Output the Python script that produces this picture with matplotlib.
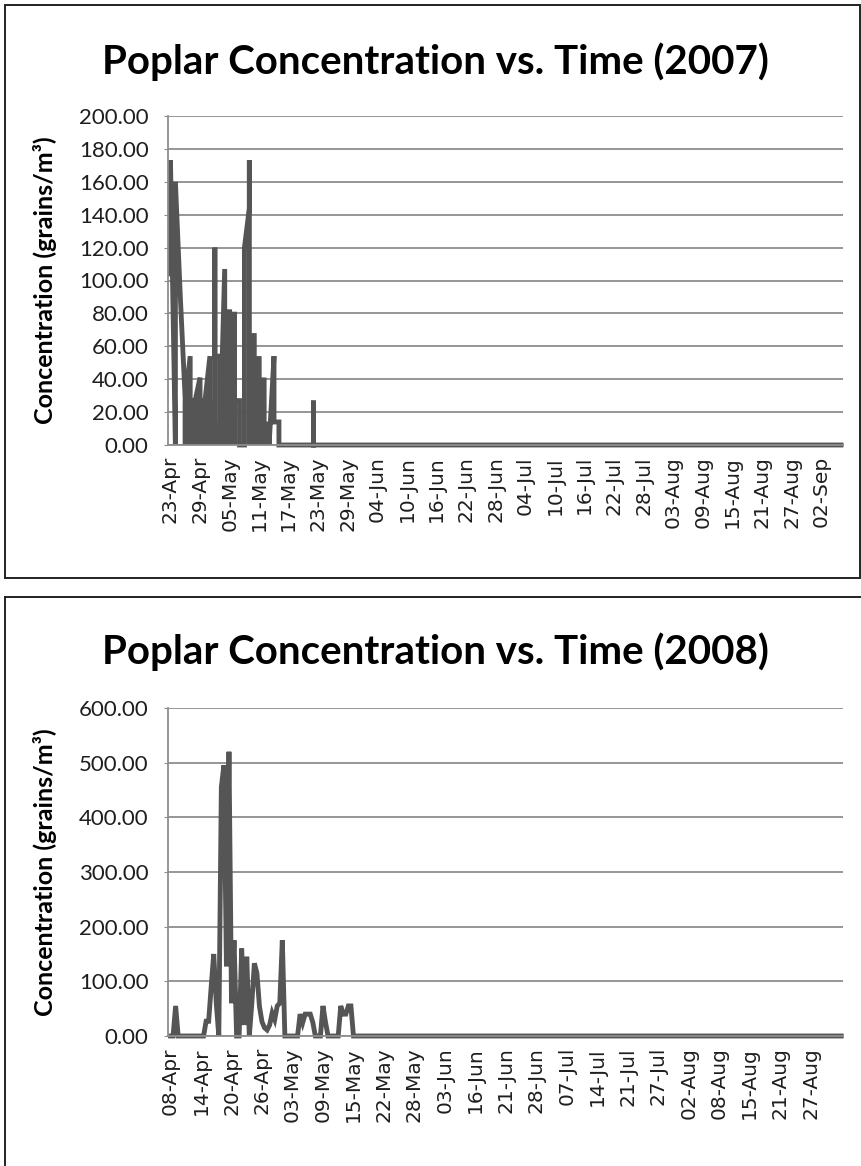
import matplotlib
matplotlib.use("Agg")
import matplotlib.pyplot as plt
from matplotlib.lines import Line2D
from matplotlib.patches import Rectangle

# ---------------- data ----------------
# 2007: date axis, day offset from 23-Apr (several readings can share a day)
day07 = [0, 0, 1, 1, 2, 3, 3, 3, 4, 4, 4, 5, 5, 5, 6, 6, 6, 7, 7, 7, 8, 8, 8,
         9, 9, 9, 10, 10, 11, 11, 11, 12, 12, 13, 13, 13, 14, 14, 15, 15, 16,
         16, 16, 17, 17, 18, 18, 19, 19, 20, 20, 21, 21, 22, 22, 23, 24, 25,
         26, 27, 28, 29, 29, 29]
val07 = [104, 173, 0, 160, 90, 27, 0, 27, 54, 0, 27, 27, 0, 27, 41, 0, 27, 27,
         0, 27, 54, 0, 27, 0, 120, 54, 54, 0, 107, 0, 81, 81, 0, 81, 0, 27, 27,
         0, 0, 120, 144, 173, 0, 68, 0, 54, 0, 41, 0, 14, 0, 54, 14, 14, 0, 0,
         0, 0, 0, 0, 0, 0, 27, 0]
tail07_days = list(range(30, 137))
tail07_vals = [0.0] * len(tail07_days)
ticks07 = ["23-Apr", "29-Apr", "05-May", "11-May", "17-May", "23-May", "29-May",
           "04-Jun", "10-Jun", "16-Jun", "22-Jun", "28-Jun", "04-Jul", "10-Jul",
           "16-Jul", "22-Jul", "28-Jul", "03-Aug", "09-Aug", "15-Aug", "21-Aug",
           "27-Aug", "02-Sep"]

# 2008: category axis (half-category resolution)
val08_head = [0, 0, 55, 0, 0, 0, 0, 0, 0, 0, 0, 0, 0, 0, 27, 27, 90, 150, 60,
              0, 455, 495, 127, 520, 60, 175, 0, 0, 160, 20, 145, 0, 60,
              133, 115, 54, 26, 15, 11, 20, 42, 30, 55, 60, 175, 0, 0, 0, 0, 0,
              0, 40, 24, 40, 40, 40, 25, 0, 0, 0, 55, 25, 0, 0, 0, 0, 0, 55, 40,
              40, 55, 55, 0]
val08_tail = [0.0] * (265 - len(val08_head))
ticks08 = ["08-Apr", "14-Apr", "20-Apr", "26-Apr", "03-May", "09-May", "15-May",
           "22-May", "28-May", "03-Jun", "16-Jun", "21-Jun", "28-Jun", "07-Jul",
           "14-Jul", "21-Jul", "27-Jul", "02-Aug", "08-Aug", "15-Aug", "21-Aug",
           "27-Aug"]

titles = ["Poplar Concentration vs. Time (2007)", "Poplar Concentration vs. Time (2008)"]
ylabel = "Concentration (grains/m³)"

# ---------------- figure ----------------
W, H = 862, 1166
fig = plt.figure(figsize=(W / 100, H / 100), dpi=100)
fig.patch.set_facecolor("white")

def rect(l, t, r, b):
    return [l / W, 1 - b / H, (r - l) / W, (b - t) / H]

LINE = "#555555"
GRID = "#8e8e8e"
SANS = ["Lato", "DejaVu Sans"]
XFONT = ["DejaVu Sans"]

def style(ax, ymax, ystep, top_px, bot_px):
    n = int(ymax / ystep) + 1
    ax.set_ylim(0, ymax)
    ax.set_yticks([ystep * i for i in range(n)])
    ax.set_yticklabels([f"{ystep * i:.2f}" for i in range(n)],
                       family=SANS, fontsize=16, color="#1e1e1e")
    ax.grid(axis="y", color=GRID, lw=1.3)
    ax.set_axisbelow(True)
    for s in ["top", "right"]:
        ax.spines[s].set_visible(False)
    for s in ["left", "bottom"]:
        ax.spines[s].set_color(GRID)
        ax.spines[s].set_linewidth(1.3)
    ax.tick_params(axis="y", length=3, color=GRID, pad=11)
    ax.tick_params(axis="x", length=0, pad=8)
    fig.text(45 / W, 1 - (top_px + bot_px) / 2 / H, ylabel, rotation=90,
             ha="center", va="center", family=SANS, fontweight="bold",
             fontsize=18)

# 2007
ax1 = fig.add_axes(rect(168, 116, 843, 445))
ax1.plot(day07 + tail07_days, val07 + tail07_vals, color=LINE, lw=3.5,
         solid_joinstyle="miter", clip_on=False)
ax1.set_xlim(-0.5, 136.4)
ax1.set_xticks([6 * i for i in range(len(ticks07))])
ax1.set_xticklabels(ticks07, rotation=90, family=XFONT, fontsize=14.5,
                    color="#1e1e1e")
style(ax1, 200, 20, 116, 445)

# 2008
ax2 = fig.add_axes(rect(168, 708, 843, 1036))
vals08 = val08_head + val08_tail
ax2.plot(range(len(vals08)), vals08, color=LINE, lw=3.5, solid_joinstyle="miter",
         clip_on=False)
ax2.set_xlim(-1, 264.7)
ax2.set_xticks([12 * i for i in range(len(ticks08))])
ax2.set_xticklabels(ticks08, rotation=90, family=XFONT, fontsize=14.5,
                    color="#1e1e1e")
style(ax2, 600, 100, 708, 1036)

# titles
fig.text(435 / W, 1 - 62 / H, titles[0], ha="center", va="center",
         family=SANS, fontweight="bold", fontsize=29)
fig.text(435 / W, 1 - 652 / H, titles[1], ha="center", va="center",
         family=SANS, fontweight="bold", fontsize=29)

# chart borders
fig.add_artist(Rectangle((5 / W, 1 - 578 / H), 855 / W, 573 / H,
                         transform=fig.transFigure, fill=False, ec="#222222", lw=1.4))
fig.add_artist(Line2D([5 / W, 1.0], [1 - 597 / H, 1 - 597 / H],
                      transform=fig.transFigure, color="#222222", lw=1.4))
fig.add_artist(Line2D([5 / W, 5 / W], [1 - 597 / H, 0.0],
                      transform=fig.transFigure, color="#222222", lw=1.4))

fig.savefig("out.png", dpi=100, facecolor="white")
